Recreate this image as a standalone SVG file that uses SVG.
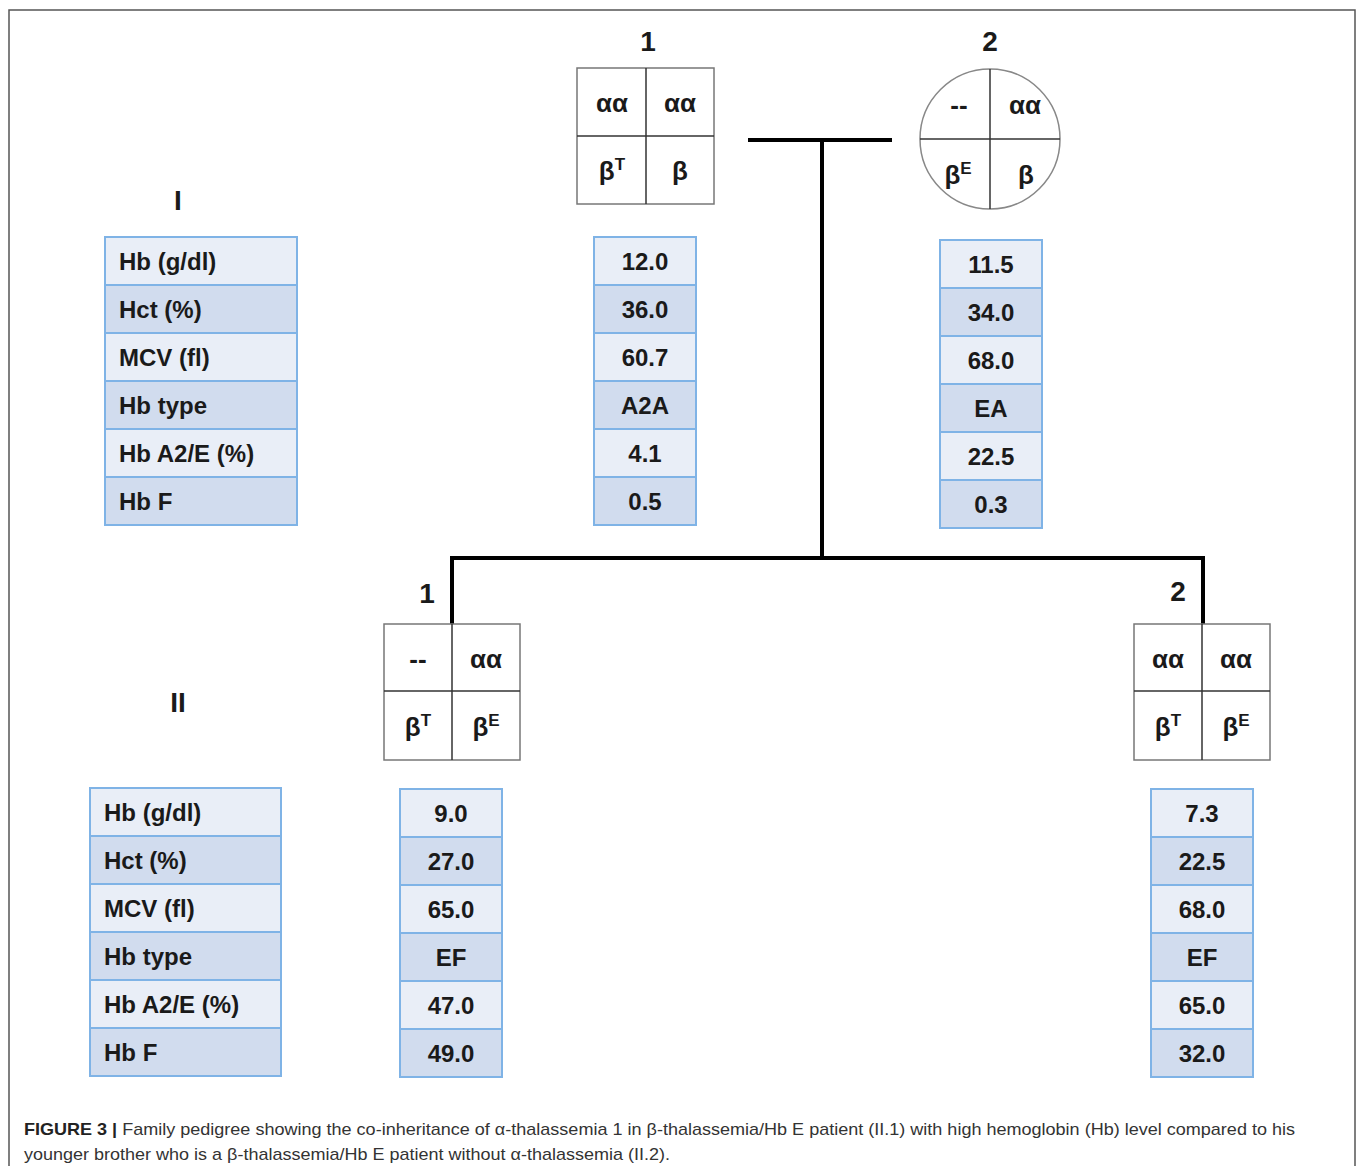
<svg xmlns="http://www.w3.org/2000/svg" width="1358" height="1166" viewBox="0 0 1358 1166">
<style>
.lt{fill:#e9eef7;stroke:#7fb3e6;stroke-width:2}
.dk{fill:#d1dcee;stroke:#7fb3e6;stroke-width:2}
.t{font-family:"Liberation Sans",Arial,sans-serif;font-weight:bold;font-size:24px;fill:#1a1a1a}
.c{text-anchor:middle}
.g{font-family:"Liberation Sans",Arial,sans-serif;font-weight:bold;font-size:26px;fill:#1a1a1a;text-anchor:middle}
.sup{font-size:17px}
.box{fill:#fff;stroke:#777;stroke-width:1.5}
.div{stroke:#333;stroke-width:1.5}
.ln{stroke:#000;stroke-width:4;fill:none}
.num{font-family:"Liberation Sans",Arial,sans-serif;font-weight:bold;font-size:28px;fill:#1a1a1a;text-anchor:middle}
.cap{font-family:"Liberation Sans",Arial,sans-serif;font-size:17px;fill:#333}
</style>
<rect width="1358" height="1166" fill="#fff"/>
<path d="M9,1166 V10 H1355 V1166" fill="none" stroke="#555" stroke-width="1.5"/>

<g id="connectors">
<line class="ln" x1="748" y1="140" x2="892" y2="140"/>
<line class="ln" x1="822" y1="140" x2="822" y2="558"/>
<polyline class="ln" points="452,624 452,558 1203,558 1203,624"/>
</g>

<text class="num" x="178" y="210">I</text>
<text class="num" x="178" y="712">II</text>

<g id="labels-I">
<rect class="lt" x="105" y="237" width="192" height="48"/>
<rect class="dk" x="105" y="285" width="192" height="48"/>
<rect class="lt" x="105" y="333" width="192" height="48"/>
<rect class="dk" x="105" y="381" width="192" height="48"/>
<rect class="lt" x="105" y="429" width="192" height="48"/>
<rect class="dk" x="105" y="477" width="192" height="48"/>
<text class="t" x="119" y="270">Hb (g/dl)</text>
<text class="t" x="119" y="318">Hct (%)</text>
<text class="t" x="119" y="366">MCV (fl)</text>
<text class="t" x="119" y="414">Hb type</text>
<text class="t" x="119" y="462">Hb A2/E (%)</text>
<text class="t" x="119" y="510">Hb F</text>
</g>

<g id="I1">
<text class="num" x="648" y="51">1</text>
<rect class="box" x="577" y="68" width="137" height="136"/>
<line class="div" x1="646" y1="68" x2="646" y2="204"/>
<line class="div" x1="577" y1="136" x2="714" y2="136"/>
<text class="g" x="612" y="112">αα</text>
<text class="g" x="680" y="112">αα</text>
<text class="g" x="612" y="180">β<tspan class="sup" dy="-10">T</tspan></text>
<text class="g" x="680" y="180">β</text>
</g>
<g id="I1-values">
<rect class="lt" x="594" y="237" width="102" height="48"/>
<rect class="dk" x="594" y="285" width="102" height="48"/>
<rect class="lt" x="594" y="333" width="102" height="48"/>
<rect class="dk" x="594" y="381" width="102" height="48"/>
<rect class="lt" x="594" y="429" width="102" height="48"/>
<rect class="dk" x="594" y="477" width="102" height="48"/>
<text class="t c" x="645" y="270">12.0</text>
<text class="t c" x="645" y="318">36.0</text>
<text class="t c" x="645" y="366">60.7</text>
<text class="t c" x="645" y="414">A2A</text>
<text class="t c" x="645" y="462">4.1</text>
<text class="t c" x="645" y="510">0.5</text>
</g>

<g id="I2">
<text class="num" x="990" y="51">2</text>
<circle cx="990" cy="139" r="70" fill="#fff" stroke="#888" stroke-width="1.5"/>
<line class="div" x1="990" y1="69" x2="990" y2="209"/>
<line class="div" x1="920" y1="139" x2="1060" y2="139"/>
<text class="g" x="959" y="114">--</text>
<text class="g" x="1025" y="114">αα</text>
<text class="g" x="958" y="184">β<tspan class="sup" dy="-10">E</tspan></text>
<text class="g" x="1026" y="184">β</text>
</g>
<g id="I2-values">
<rect class="lt" x="940" y="240" width="102" height="48"/>
<rect class="dk" x="940" y="288" width="102" height="48"/>
<rect class="lt" x="940" y="336" width="102" height="48"/>
<rect class="dk" x="940" y="384" width="102" height="48"/>
<rect class="lt" x="940" y="432" width="102" height="48"/>
<rect class="dk" x="940" y="480" width="102" height="48"/>
<text class="t c" x="991" y="273">11.5</text>
<text class="t c" x="991" y="321">34.0</text>
<text class="t c" x="991" y="369">68.0</text>
<text class="t c" x="991" y="417">EA</text>
<text class="t c" x="991" y="465">22.5</text>
<text class="t c" x="991" y="513">0.3</text>
</g>

<g id="labels-II">
<rect class="lt" x="90" y="788" width="191" height="48"/>
<rect class="dk" x="90" y="836" width="191" height="48"/>
<rect class="lt" x="90" y="884" width="191" height="48"/>
<rect class="dk" x="90" y="932" width="191" height="48"/>
<rect class="lt" x="90" y="980" width="191" height="48"/>
<rect class="dk" x="90" y="1028" width="191" height="48"/>
<text class="t" x="104" y="821">Hb (g/dl)</text>
<text class="t" x="104" y="869">Hct (%)</text>
<text class="t" x="104" y="917">MCV (fl)</text>
<text class="t" x="104" y="965">Hb type</text>
<text class="t" x="104" y="1013">Hb A2/E (%)</text>
<text class="t" x="104" y="1061">Hb F</text>
</g>

<g id="II1">
<text class="num" x="427" y="603">1</text>
<rect class="box" x="384" y="624" width="136" height="136"/>
<line class="div" x1="452" y1="624" x2="452" y2="760"/>
<line class="div" x1="384" y1="691" x2="520" y2="691"/>
<text class="g" x="418" y="668">--</text>
<text class="g" x="486" y="668">αα</text>
<text class="g" x="418" y="736">β<tspan class="sup" dy="-10">T</tspan></text>
<text class="g" x="486" y="736">β<tspan class="sup" dy="-10">E</tspan></text>
</g>
<g id="II1-values">
<rect class="lt" x="400" y="789" width="102" height="48"/>
<rect class="dk" x="400" y="837" width="102" height="48"/>
<rect class="lt" x="400" y="885" width="102" height="48"/>
<rect class="dk" x="400" y="933" width="102" height="48"/>
<rect class="lt" x="400" y="981" width="102" height="48"/>
<rect class="dk" x="400" y="1029" width="102" height="48"/>
<text class="t c" x="451" y="822">9.0</text>
<text class="t c" x="451" y="870">27.0</text>
<text class="t c" x="451" y="918">65.0</text>
<text class="t c" x="451" y="966">EF</text>
<text class="t c" x="451" y="1014">47.0</text>
<text class="t c" x="451" y="1062">49.0</text>
</g>

<g id="II2">
<text class="num" x="1178" y="601">2</text>
<rect class="box" x="1134" y="624" width="136" height="136"/>
<line class="div" x1="1202" y1="624" x2="1202" y2="760"/>
<line class="div" x1="1134" y1="691" x2="1270" y2="691"/>
<text class="g" x="1168" y="668">αα</text>
<text class="g" x="1236" y="668">αα</text>
<text class="g" x="1168" y="736">β<tspan class="sup" dy="-10">T</tspan></text>
<text class="g" x="1236" y="736">β<tspan class="sup" dy="-10">E</tspan></text>
</g>
<g id="II2-values">
<rect class="lt" x="1151" y="789" width="102" height="48"/>
<rect class="dk" x="1151" y="837" width="102" height="48"/>
<rect class="lt" x="1151" y="885" width="102" height="48"/>
<rect class="dk" x="1151" y="933" width="102" height="48"/>
<rect class="lt" x="1151" y="981" width="102" height="48"/>
<rect class="dk" x="1151" y="1029" width="102" height="48"/>
<text class="t c" x="1202" y="822">7.3</text>
<text class="t c" x="1202" y="870">22.5</text>
<text class="t c" x="1202" y="918">68.0</text>
<text class="t c" x="1202" y="966">EF</text>
<text class="t c" x="1202" y="1014">65.0</text>
<text class="t c" x="1202" y="1062">32.0</text>
</g>

<g id="caption">
<text class="cap" x="24" y="1135" textLength="1271" lengthAdjust="spacingAndGlyphs"><tspan font-weight="bold" fill="#222">FIGURE 3 |</tspan> Family pedigree showing the co-inheritance of α-thalassemia 1 in β-thalassemia/Hb E patient (II.1) with high hemoglobin (Hb) level compared to his</text>
<text class="cap" x="24" y="1160" textLength="646" lengthAdjust="spacingAndGlyphs">younger brother who is a β-thalassemia/Hb E patient without α-thalassemia (II.2).</text>
</g>
</svg>
